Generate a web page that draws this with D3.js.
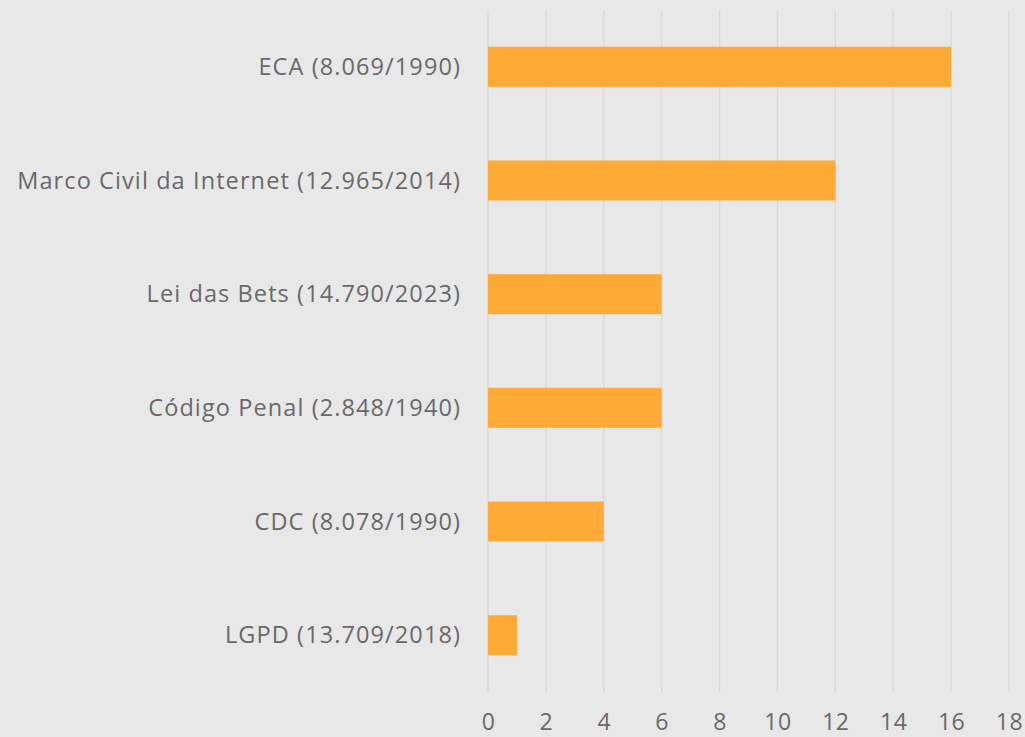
<!DOCTYPE html>
<meta charset="utf-8">
<style>
  body { margin: 0; background: #e8e8e8; }
  .tick text { fill: #696969; font-family: "Open Sans", Inter, sans-serif; }
</style>
<script src="https://d3js.org/d3.v7.min.js"></script>
<div id="my_dataviz"></div>
<script>

// data
var categories = ["ECA (8.069/1990)", "Marco Civil da Internet (12.965/2014)", "Lei das Bets (14.790/2023)",
                  "Código Penal (2.848/1940)", "CDC (8.078/1990)", "LGPD (13.709/2018)"];
var values = [16, 12, 6, 6, 4, 1];
var xTicks = [0, 2, 4, 6, 8, 10, 12, 14, 16, 18];

var W = 1025, H = 737;
var margin = {top: 10, right: 16, bottom: 45, left: 488},
    width = W - margin.left - margin.right,
    height = H - margin.top - margin.bottom;

var svg = d3.select("#my_dataviz")
  .append("svg")
    .attr("width", W)
    .attr("height", H)
    .style("display", "block")
    .style("background", "#e8e8e8")
  .append("g")
    .attr("transform", "translate(" + margin.left + "," + margin.top + ")");

var x = d3.scaleLinear().domain([0, 18]).range([0, width]);
var y = d3.scaleBand().domain(categories).range([0, height]).paddingInner(0.648).paddingOuter(0.324);

// vertical grid
svg.append("g")
  .selectAll("line")
  .data(xTicks)
  .enter()
  .append("line")
    .attr("x1", function(d){ return x(d) })
    .attr("x2", function(d){ return x(d) })
    .attr("y1", 0)
    .attr("y2", height)
    .attr("stroke", "#d9d9d9")
    .attr("stroke-width", 1.3)

// x axis labels (kept just inside the bottom edge)
var xAxis = svg.append("g")
  .attr("transform", "translate(0," + height + ")")
  .call(d3.axisBottom(x).tickValues(xTicks).tickSize(0).tickPadding(22))
xAxis.select(".domain").remove()
xAxis.selectAll("text").style("font-size", "23px").style("letter-spacing", "0.5px")

// category labels
var yAxis = svg.append("g")
  .call(d3.axisLeft(y).tickSize(0).tickPadding(27))
yAxis.select(".domain").remove()
yAxis.selectAll("text")
  .style("font-size", "23.5px")
  .style("letter-spacing", "1.1px")
  .attr("dy", "0.35em")

// bars
svg.selectAll("myBars")
  .data(values)
  .enter()
  .append("rect")
    .attr("x", x(0))
    .attr("y", function(d, i){ return y(categories[i]) })
    .attr("width", function(d){ return x(d) - x(0) })
    .attr("height", y.bandwidth())
    .style("fill", "#ffaa36")

</script>
